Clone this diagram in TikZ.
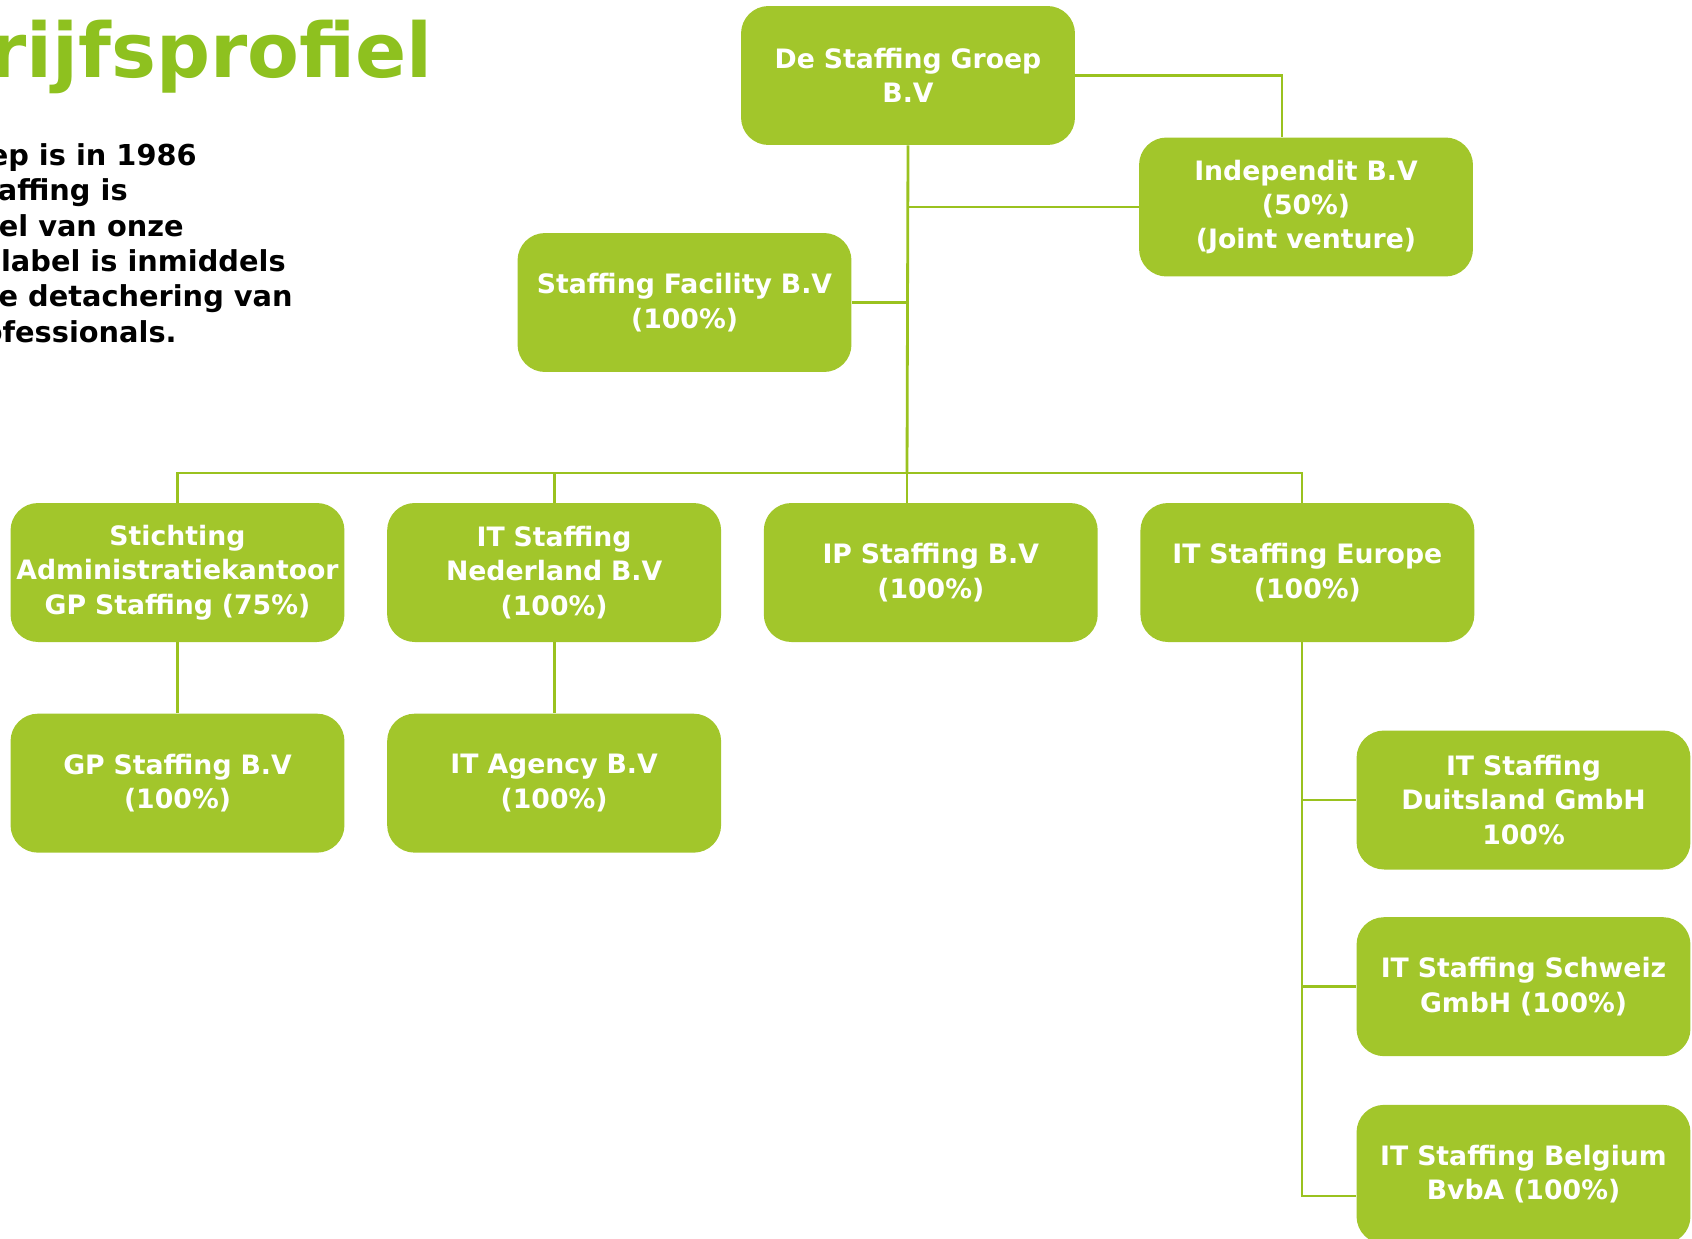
\documentclass[tikz,border=0pt]{standalone}
\usepackage{fontspec}
\setmainfont{DejaVu Sans}
\usetikzlibrary{positioning}
\definecolor{boxGreen}{HTML}{A2C62B}
\definecolor{lineGreen}{HTML}{9AC21F}
\definecolor{titleGreen}{HTML}{8EC11F}

\begin{document}
\begin{tikzpicture}[
    x=0.02cm, y=-0.02cm,
    node distance=0.84cm,
    entity/.style={rectangle, rounded corners=0.55cm, fill=boxGreen, text=white,
                   font=\fontsize{15.2}{19.6}\selectfont\bfseries, text width=6.5cm,
                   inner xsep=0.09cm, inner ysep=0pt, minimum height=2.78cm,
                   align=center},
    intro/.style={font=\fontsize{16.4}{20}\selectfont\bfseries, anchor=base east,
                  inner sep=0pt},
    link/.style={lineGreen, line width=1.6pt}
  ]
    \useasboundingbox (0,0) rectangle (1692,1238);

    % title and intro text, cut by the left edge
    \node[font=\fontsize{43}{50}\selectfont\bfseries, text=titleGreen,
          anchor=base east, inner sep=0pt] (title) at (433,77) {rijfsprofiel};
    \node[intro] (intro1) at (197,165) {ep is in 1986};
    \node[intro] (intro2) at (128,200) {affing is};
    \node[intro] (intro3) at (184,236) {el van onze};
    \node[intro] (intro4) at (286,271) {label is inmiddels};
    \node[intro] (intro5) at (293,306) {e detachering van};
    \node[intro] (intro6) at (177,342) {ofessionals.};

    % holding and direct children
    \node[entity] (top) at (908,75.5) {De Staffing Groep\\B.V};
    \node[entity] (ind) at (1306,207) {Independit B.V\\(50\%)\\(Joint venture)};
    \node[entity] (fac) at (684.5,302.5) {Staffing Facility B.V\\(100\%)};

    \node[entity] (sti) at (177.5,572.5) {Stichting\\Administratiekantoor\\GP Staffing (75\%)};
    \node[entity, right=of sti] (itnl) {IT Staffing\\Nederland B.V\\(100\%)};
    \node[entity, right=of itnl] (ip) {IP Staffing B.V\\(100\%)};
    \node[entity, right=of ip] (eu) {IT Staffing Europe\\(100\%)};

    \node[entity, below=1.42cm of sti] (gp) {GP Staffing B.V\\(100\%)};
    \node[entity, below=1.42cm of itnl] (ag) {IT Agency B.V\\(100\%)};

    % foreign branches
    \node[entity] (du) at (1523.5,800) {IT Staffing\\Duitsland GmbH\\100\%};
    \node[entity, below=0.94cm of du] (ch) {IT Staffing Schweiz\\GmbH (100\%)};
    \node[entity, below=0.96cm of ch] (be) {IT Staffing Belgium\\BvbA (100\%)};

    \coordinate (bus) at (907,473);
    \coordinate (jv) at (1282,137);
    \coordinate (eudrop) at (1302,473);
    \coordinate (spine) at (1302,1196);

    \draw[link] (top.south) -- (bus);
    \draw[link] (top.east) -| (jv);
    \draw[link] (ind.west) -- (ind.west -| bus);
    \draw[link] (fac.east) -- (fac.east -| bus);
    \draw[link] (sti.north) |- (eudrop) -- (eudrop |- eu.north);
    \draw[link] (itnl.north) -- (itnl.north |- bus);
    \draw[link] (bus) -- (bus |- ip.north);
    \draw[link] (sti.south) -- (gp.north);
    \draw[link] (itnl.south) -- (ag.north);
    \draw[link] (eu.south -| spine) -- (spine) -- (spine -| be.west);
    \draw[link] (du.west) -- (du.west -| spine);
    \draw[link] (ch.west) -- (ch.west -| spine);
  \end{tikzpicture}
\end{document}
